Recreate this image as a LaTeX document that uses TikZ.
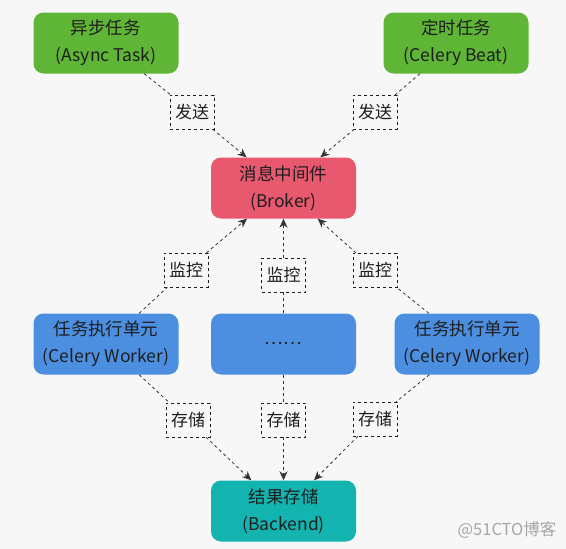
\documentclass[tikz,border=0pt]{standalone}
\usepackage{fontspec}
\newfontfamily\cjk{Noto Sans CJK SC}
\usetikzlibrary{arrows.meta, positioning}
\definecolor{bgGray}{HTML}{F7F7F7}
\definecolor{taskGreen}{HTML}{5FB536}
\definecolor{brokerRed}{HTML}{E8586E}
\definecolor{workerBlue}{HTML}{4C8FE1}
\definecolor{backTeal}{HTML}{13B4B0}
\definecolor{inkDark}{HTML}{1E1E1E}
\definecolor{lineGray}{HTML}{333333}
\tikzset{
  boxBase/.style={rectangle, rounded corners=10pt, draw=none, align=center,
                  text=inkDark, font=\cjk\fontsize{17.5}{27}\selectfont,
                  minimum width=145pt, minimum height=61pt, inner sep=2pt},
  boxGreen/.style={boxBase, fill=taskGreen},
  boxRed/.style={boxBase, fill=brokerRed},
  boxBlue/.style={boxBase, fill=workerBlue},
  boxTeal/.style={boxBase, fill=backTeal},
  tagBox/.style={rectangle, draw=inkDark, dashed, fill=bgGray, text=inkDark,
                 font=\cjk\fontsize{17}{20}\selectfont, inner sep=3pt,
                 minimum width=44pt, minimum height=34pt},
  lineD/.style={lineGray, dashed, thick},
  arrowD/.style={-{Stealth[length=9pt, width=8pt]}, lineGray, dashed, thick},
}
\begin{document}
\begin{tikzpicture}[x=1pt, y=-1pt]
    % fondo
    \fill[bgGray] (0,0) rectangle (566,549);
    % productores
    \node[boxGreen] (async) at (106,43) {异步任务\\(Async Task)};
    \node[boxGreen] (beat) at (456,43) {定时任务\\(Celery Beat)};
    % broker
    \node[boxRed] (broker) at (283.5,188) {消息中间件\\(Broker)};
    % workers
    \node[boxBlue] (wkL) at (106,344) {任务执行单元\\(Celery Worker)};
    \node[boxBlue] (wkM) at (283.5,344) {……};
    \node[boxBlue] (wkR) at (467,344) {任务执行单元\\(Celery Worker)};
    % backend
    \node[boxTeal] (backend) at (283.5,511) {结果存储\\(Backend)};
    % etiquetas
    \node[tagBox] (sendL) at (192,112) {发送};
    \node[tagBox] (sendR) at (375,112) {发送};
    \node[tagBox] (monL) at (186,270) {监控};
    \node[tagBox] (monM) at (283.5,275) {监控};
    \node[tagBox] (monR) at (375,270) {监控};
    \node[tagBox] (stoL) at (188,420) {存储};
    \node[tagBox] (stoM) at (283.5,420) {存储};
    \node[tagBox] (stoR) at (375,419) {存储};
    % marca de agua
    \node[text=gray!70, font=\cjk\fontsize{16.5}{18}\selectfont] (mark) at (507,530) {@51CTO博客};
    % flechas hacia el broker
    \draw[lineD] (async) -- (sendL);
    \draw[arrowD] (sendL) -- (broker);
    \draw[lineD] (beat) -- (sendR);
    \draw[arrowD] (sendR) -- (broker);
    \draw[lineD] (wkL) -- (monL);
    \draw[arrowD] (monL) -- (broker);
    \draw[lineD] (wkM) -- (monM);
    \draw[arrowD] (monM) -- (broker);
    \draw[lineD] (wkR) -- (monR);
    \draw[arrowD] (monR) -- (broker);
    % flechas hacia el backend
    \draw[lineD] (wkL) -- (stoL);
    \draw[arrowD] (stoL) -- (backend);
    \draw[lineD] (wkM) -- (stoM);
    \draw[arrowD] (stoM) -- (backend);
    \draw[lineD] (wkR) -- (stoR);
    \draw[arrowD] (stoR) -- (backend);
\end{tikzpicture}
\end{document}
